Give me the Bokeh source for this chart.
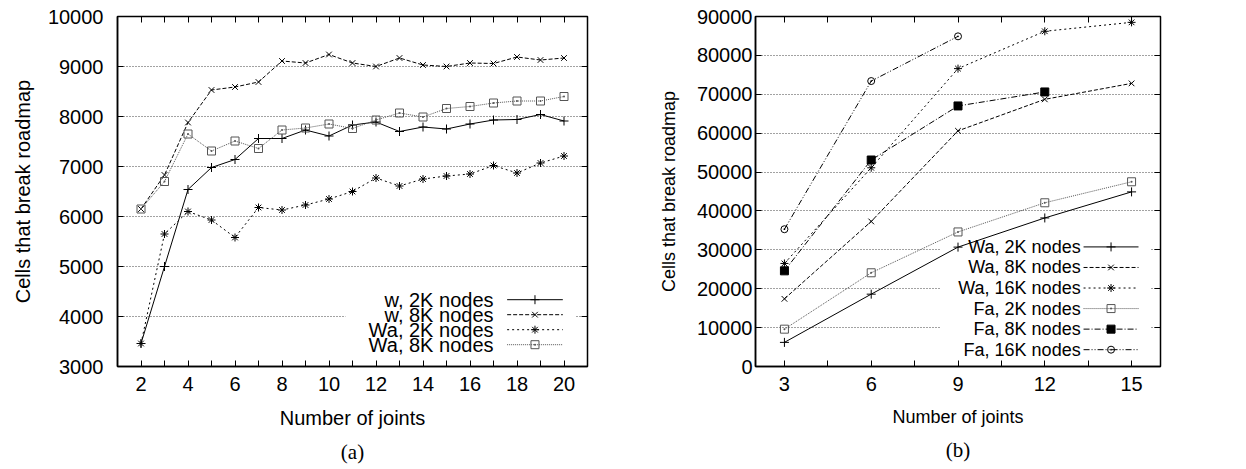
from bokeh.plotting import figure
from bokeh.layouts import row
from bokeh.models import (FixedTicker, LinearAxis, Range1d, Title, BoxAnnotation,
                          BasicTickFormatter)
from bokeh.core.properties import value
from bokeh.embed import file_html
from bokeh.resources import INLINE

# ---------------- panel (a) ----------------
joints_a = [2, 3, 4, 5, 6, 7, 8, 9, 10, 11, 12, 13, 14, 15, 16, 17, 18, 19, 20]
w_2k = [3460, 5000, 6540, 6980, 7140, 7560, 7560, 7730, 7610, 7830, 7890,
        7700, 7790, 7750, 7850, 7930, 7940, 8040, 7910]
w_8k = [6150, 6830, 7880, 8530, 8590, 8690, 9110, 9070, 9240, 9070, 9000,
        9170, 9030, 9000, 9070, 9060, 9190, 9130, 9170]
wa_2k = [3460, 5650, 6100, 5930, 5580, 6180, 6130, 6230, 6350, 6500, 6770,
         6610, 6750, 6810, 6850, 7020, 6870, 7070, 7210]
wa_8k = [6150, 6700, 7650, 7310, 7510, 7360, 7730, 7770, 7850, 7760, 7930,
         8070, 7990, 8160, 8200, 8270, 8310, 8310, 8400]
labels_a = ["w, 2K nodes", "w, 8K nodes", "Wa, 2K nodes", "Wa, 8K nodes"]
xticks_a = [2, 4, 6, 8, 10, 12, 14, 16, 18, 20]
yticks_a = [3000, 4000, 5000, 6000, 7000, 8000, 9000, 10000]

# ---------------- panel (b) ----------------
joints_b = [3, 6, 9, 12, 15]
wa_2k_b = [6200, 18600, 30700, 38200, 44900]
wa_8k_b = [17400, 37300, 60600, 68700, 72800]
wa_16k_b = [26500, 51100, 76600, 86200, 88500]
fa_2k_b = [9600, 24100, 34600, 42100, 47500]
joints_fa_8k = [3, 6, 9, 12]
fa_8k_b = [24600, 53100, 67000, 70600]
joints_fa_16k = [3, 6, 9]
fa_16k_b = [35300, 73400, 84900]
labels_b = ["Wa, 2K nodes", "Wa, 8K nodes", "Wa, 16K nodes",
            "Fa, 2K nodes", "Fa, 8K nodes", "Fa, 16K nodes"]
xticks_b = [3, 6, 9, 12, 15]
yticks_b = [0, 10000, 20000, 30000, 40000, 50000, 60000, 70000, 80000, 90000]

SANS = "Liberation Sans"
SERIF = "Liberation Serif"

# line / point styles, gnuplot-like monochrome
STYLE_SOLID_PLUS = dict(dash="solid", color="black", marker="cross", fill=None, size=9)
STYLE_DASH_X = dict(dash="4 2", color="black", marker="x", fill=None, size=8)
STYLE_SHORT_STAR = dict(dash="2 3", color="black", marker="asterisk", fill=None, size=8)
STYLE_DOT_SQUARE = dict(dash="1 1", color="#555555", marker="square_dot", fill=None, size=8)
STYLE_DASHDOT_FSQ = dict(dash="6 2 1 2", color="black", marker="square", fill="black", size=8)
STYLE_DASHDOTDOT_CIRC = dict(dash="6 2 1 2 1 2", color="black", marker="circle_dot", fill=None, size=7)


def make_panel(x_rng, y_rng, frame_w, border_l, border_r, xticks, xminor, yticks,
               caption, tick_font, label_font, tick_standoff_y, label_standoff_y):
    p = figure(width=frame_w + border_l + border_r, height=469,
               frame_width=frame_w, frame_height=350,
               x_range=Range1d(*x_rng), y_range=Range1d(*y_rng),
               output_backend="svg", toolbar_location=None,
               min_border_left=border_l, min_border_right=border_r,
               min_border_top=16, min_border_bottom=10)
    p.title.visible = False
    p.background_fill_color = "white"
    p.border_fill_color = "white"
    p.outline_line_color = "black"
    p.outline_line_width = 1.5

    p.xaxis.ticker = FixedTicker(ticks=xticks, minor_ticks=xminor)
    p.yaxis.ticker = FixedTicker(ticks=yticks)
    p.yaxis.formatter = BasicTickFormatter(use_scientific=False)
    for ax in (p.xaxis[0], p.yaxis[0]):
        ax.major_tick_in = 6
        ax.major_tick_out = 0
        ax.minor_tick_in = 6
        ax.minor_tick_out = 0
        ax.axis_line_color = "black"
        ax.axis_line_width = 1.5
        ax.major_tick_line_color = "black"
        ax.minor_tick_line_color = "black"
        ax.major_label_text_font = SANS
        ax.major_label_text_font_size = tick_font
        ax.major_label_text_color = "black"
        ax.axis_label_text_font = SANS
        ax.axis_label_text_font_size = label_font
        ax.axis_label_text_font_style = "normal"
        ax.axis_label_text_color = "black"
    p.xaxis.axis_label = "Number of joints"
    p.yaxis.axis_label = "Cells that break roadmap"
    p.yaxis.major_label_standoff = tick_standoff_y
    p.yaxis.axis_label_standoff = label_standoff_y
    p.yaxis.minor_tick_line_color = None
    p.xaxis.major_label_standoff = 10
    p.xaxis.axis_label_standoff = 13

    # mirrored inward ticks on the top and right borders (no labels)
    top = LinearAxis(ticker=FixedTicker(ticks=xticks, minor_ticks=xminor))
    right = LinearAxis(ticker=FixedTicker(ticks=yticks))
    for ax in (top, right):
        ax.major_label_text_color = None
        ax.major_label_standoff = 0
        ax.axis_line_color = None
        ax.major_tick_in = 6
        ax.major_tick_out = 0
        ax.minor_tick_in = 6
        ax.minor_tick_out = 0
        ax.major_tick_line_color = "black"
        ax.minor_tick_line_color = "black"
    right.minor_tick_line_color = None
    p.add_layout(top, "above")
    p.add_layout(right, "right")

    p.xgrid.visible = False
    p.ygrid.grid_line_color = "#444444"
    p.ygrid.grid_line_dash = "1 2"
    p.ygrid.grid_line_width = 1

    p.add_layout(Title(text=caption, align="center", text_font=SERIF,
                       text_font_size="21px", text_font_style="normal",
                       text_color="black", standoff=13), "below")
    return p


def draw_series(p, xs, ys, st):
    p.line(xs, ys, line_color=st["color"], line_dash=st["dash"], line_width=1)
    p.scatter(xs, ys, marker=st["marker"], size=st["size"], line_color=st["color"],
              fill_color=st["fill"], line_width=1)


def draw_key(p, labels, styles, text_x, seg_x0, seg_x1, y_first, y_step,
             box, font_size):
    # white key background hides the grid behind the entries
    p.add_layout(BoxAnnotation(left=box[0], right=box[1], bottom=box[2], top=box[3],
                               fill_color="white", fill_alpha=1, line_color=None,
                               level="underlay"))
    for i, (lab, st) in enumerate(zip(labels, styles)):
        y = y_first - i * y_step
        p.text(x=[text_x], y=[y], text=[lab], text_align="right",
               text_baseline="middle", text_font=value(SANS),
               text_font_size=font_size, text_color="black")
        p.segment(x0=[seg_x0], y0=[y], x1=[seg_x1], y1=[y], line_color=st["color"],
                  line_dash=st["dash"], line_width=1)
        p.scatter(x=[(seg_x0 + seg_x1) / 2], y=[y], marker=st["marker"], size=st["size"],
                  line_color=st["color"], fill_color=st["fill"], line_width=1)


# ---------- (a) ----------
pa = make_panel((1, 21), (3000, 10000), 470, 117, 33, xticks_a,
                [1, 3, 5, 7, 9, 11, 13, 15, 17, 19, 21], yticks_a, "(a)",
                tick_font="20px", label_font="20px",
                tick_standoff_y=14, label_standoff_y=11)
styles_a = [STYLE_SOLID_PLUS, STYLE_DASH_X, STYLE_SHORT_STAR, STYLE_DOT_SQUARE]
for ys, st in zip([w_2k, w_8k, wa_2k, wa_8k], styles_a):
    draw_series(pa, joints_a, ys, st)
draw_key(pa, labels_a, styles_a, text_x=17.0, seg_x0=17.58, seg_x1=19.95,
         y_first=4336, y_step=300, box=(10.7, 20.5, 3150, 4520), font_size="20px")

# ---------- (b) ----------
pb = make_panel((2, 16), (0, 90000), 405, 135, 86, xticks_b,
                [1.5, 4.5, 7.5, 10.5, 13.5, 16.5], yticks_b, "(b)",
                tick_font="20px", label_font="18px",
                tick_standoff_y=3, label_standoff_y=15)
styles_b = [STYLE_SOLID_PLUS, STYLE_DASH_X, STYLE_SHORT_STAR, STYLE_DOT_SQUARE,
            STYLE_DASHDOT_FSQ, STYLE_DASHDOTDOT_CIRC]
series_b = [(joints_b, wa_2k_b), (joints_b, wa_8k_b), (joints_b, wa_16k_b),
            (joints_b, fa_2k_b), (joints_fa_8k, fa_8k_b), (joints_fa_16k, fa_16k_b)]
for (xs, ys), st in zip(series_b, styles_b):
    draw_series(pb, xs, ys, st)
draw_key(pb, labels_b, styles_b, text_x=13.24, seg_x0=13.34, seg_x1=15.24,
         y_first=30750, y_step=5285, box=(8.4, 15.65, 500, 33300), font_size="18px")

layout = row(pa, pb)
open("out.html", "w").write(file_html(layout, INLINE))
